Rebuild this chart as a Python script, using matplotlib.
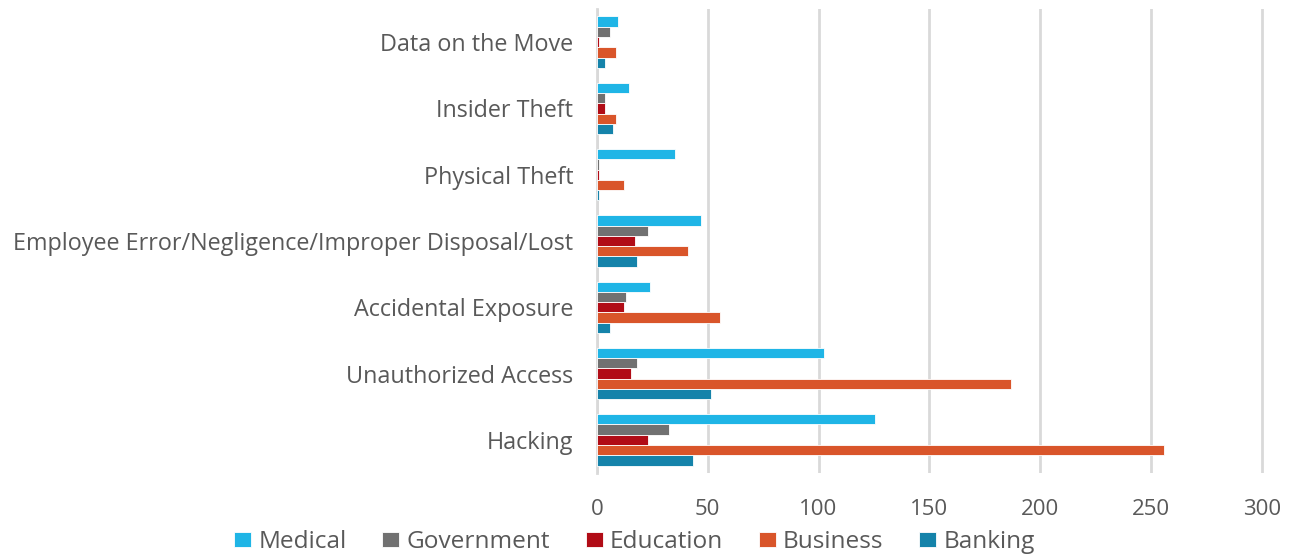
import numpy as np
import matplotlib.pyplot as plt

plt.rcParams['font.family'] = ['Open Sans', 'DejaVu Sans']

# categories from top to bottom
categories = ['Data on the Move', 'Insider Theft', 'Physical Theft',
              'Employee Error/Negligence/Improper Disposal/Lost',
              'Accidental Exposure', 'Unauthorized Access', 'Hacking']
series = ['Medical', 'Government', 'Education', 'Business', 'Banking']
colors = ['#1fb5e6', '#717171', '#b10c16', '#d9552a', '#1583aa']

medical = [9.5, 14.5, 35, 47, 24, 102.5, 125.5]
government = [6, 3.5, 1, 23, 13.2, 18, 32.5]
education = [1, 3.5, 1, 17, 12, 15.5, 23]
business = [8.5, 8.5, 12, 41, 55.6, 187, 256]
banking = [3.5, 7, 1, 18, 6, 51.5, 43.5]
values = [medical, government, education, business, banking]

fig = plt.figure(figsize=(12.9, 5.56), dpi=100)
ax = fig.add_axes([597 / 1290, 83 / 556, 668 / 1290, 464 / 556])

n = len(categories)
pos = np.arange(n)
bar_h = 0.155
for i, (name, vals, c) in enumerate(zip(series, values, colors)):
    ax.barh(pos - 2 * bar_h + i * bar_h, vals, height=bar_h, color=c,
            edgecolor='white', linewidth=0.6, label=name, zorder=3)

ax.set_ylim(n - 0.5, -0.5)
ax.set_xlim(0, 301.5)
ax.set_xticks(range(0, 301, 50))
ax.set_yticks(pos)
ax.set_yticklabels(categories)
ax.tick_params(axis='y', length=0, pad=17, labelsize=16.8, labelcolor='#595959')
ax.tick_params(axis='x', length=0, pad=19, labelsize=16, labelcolor='#595959')
ax.grid(axis='x', color='#d9d9d9', linewidth=2, zorder=0)
for s in ['top', 'right', 'bottom']:
    ax.spines[s].set_visible(False)
ax.spines['left'].set_color('#d9d9d9')
ax.spines['left'].set_linewidth(2)

fig.legend(loc='center left', bbox_to_anchor=(234 / 1290, 1 - 542 / 556),
           ncol=5, frameon=False, fontsize=17.6, labelcolor='#595959',
           handlelength=0.7, handleheight=0.57, handletextpad=0.3,
           columnspacing=1.45, borderpad=0, borderaxespad=0)

fig.savefig('out.png', dpi=100)
